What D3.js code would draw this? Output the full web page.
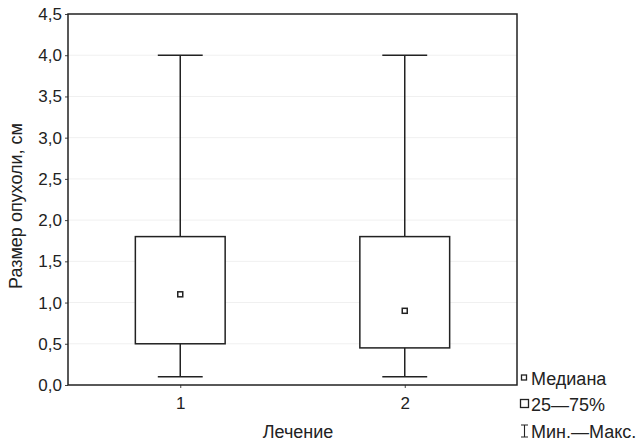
<!DOCTYPE html>
<html>
<head>
<meta charset="utf-8">
<script src="https://cdn.jsdelivr.net/npm/d3@7"></script>
<style>
  body { margin: 0; background: #fff; }
  text { font-family: "Liberation Sans", Arial, sans-serif; fill: #222; }
</style>
</head>
<body>
<div id="chart"></div>
<script>
var groups = ['1', '2'];
var mins = [0.1, 0.1];
var q1s = [0.5, 0.45];
var medians = [1.1, 0.9];
var q3s = [1.8, 1.8];
var maxs = [4.0, 4.0];
var yTicks = [0, 0.5, 1, 1.5, 2, 2.5, 3, 3.5, 4, 4.5];
var legendLabels = ['Медиана', '25—75%', 'Мин.—Макс.'];

var W = 637, H = 441;
var margin = { top: 14, right: 120, bottom: 56, left: 68 };
var FONT = '"Liberation Sans", Arial, sans-serif';

var svg = d3.select('#chart').append('svg')
    .attr('width', W).attr('height', H);

var x = d3.scaleLinear().domain([0.5, 2.5]).range([margin.left, W - margin.right]);
var y = d3.scaleLinear().domain([0, 4.5]).range([H - margin.bottom, margin.top]);

var data = groups.map(function (g, i) {
    return { g: g, pos: i + 1, min: mins[i], q1: q1s[i], med: medians[i], q3: q3s[i], max: maxs[i] };
});

// faint grid
svg.append('g').selectAll('line').data(yTicks.slice(1, -1)).join('line')
    .attr('x1', x(0.5)).attr('x2', x(2.5))
    .attr('y1', function (d) { return y(d); }).attr('y2', function (d) { return y(d); })
    .attr('stroke', '#f0f0f0').attr('stroke-width', 1);

// y axis
var yAxis = svg.append('g')
    .attr('transform', 'translate(' + x(0.5) + ',0)')
    .call(d3.axisLeft(y).tickValues(yTicks).tickSize(3).tickPadding(3)
        .tickFormat(function (d) { return d3.format('.1f')(d).replace('.', ','); }));
yAxis.select('.domain').remove();
yAxis.selectAll('.tick line').attr('stroke', '#444');
yAxis.selectAll('text').attr('font-size', 17).style('font-family', FONT).attr('fill', '#222');

// x axis
var xAxis = svg.append('g')
    .attr('transform', 'translate(0,' + y(0) + ')')
    .call(d3.axisBottom(x).tickValues([1, 2]).tickSize(3).tickPadding(9)
        .tickFormat(function (d, i) { return groups[i]; }));
xAxis.select('.domain').remove();
xAxis.selectAll('.tick line').attr('stroke', '#444');
xAxis.selectAll('text').attr('font-size', 17).style('font-family', FONT).attr('fill', '#222');

// frame
svg.append('rect')
    .attr('x', x(0.5)).attr('y', y(4.5))
    .attr('width', x(2.5) - x(0.5)).attr('height', y(0) - y(4.5))
    .attr('fill', 'none').attr('stroke', '#222').attr('stroke-width', 1.5);

var boxW = 0.4, capW = 0.2;
var box = svg.append('g').selectAll('g').data(data).join('g');

box.append('line')
    .attr('x1', function (d) { return x(d.pos); }).attr('x2', function (d) { return x(d.pos); })
    .attr('y1', function (d) { return y(d.min); }).attr('y2', function (d) { return y(d.max); })
    .attr('stroke', '#222').attr('stroke-width', 1.5);
box.append('line')
    .attr('x1', function (d) { return x(d.pos - capW / 2); }).attr('x2', function (d) { return x(d.pos + capW / 2); })
    .attr('y1', function (d) { return y(d.max); }).attr('y2', function (d) { return y(d.max); })
    .attr('stroke', '#222').attr('stroke-width', 1.5);
box.append('line')
    .attr('x1', function (d) { return x(d.pos - capW / 2); }).attr('x2', function (d) { return x(d.pos + capW / 2); })
    .attr('y1', function (d) { return y(d.min); }).attr('y2', function (d) { return y(d.min); })
    .attr('stroke', '#222').attr('stroke-width', 1.5);
box.append('rect')
    .attr('x', function (d) { return x(d.pos - boxW / 2); })
    .attr('width', function (d) { return x(d.pos + boxW / 2) - x(d.pos - boxW / 2); })
    .attr('y', function (d) { return y(d.q3); })
    .attr('height', function (d) { return y(d.q1) - y(d.q3); })
    .attr('fill', '#fff').attr('stroke', '#222').attr('stroke-width', 1.5);
box.append('rect')
    .attr('x', function (d) { return x(d.pos) - 2.5; })
    .attr('y', function (d) { return y(d.med) - 2.5; })
    .attr('width', 5).attr('height', 5)
    .attr('fill', '#fff').attr('stroke', '#222').attr('stroke-width', 1.5);

// axis titles
svg.append('text')
    .attr('x', 298).attr('y', 438)
    .attr('text-anchor', 'middle').attr('font-size', 18)
    .text('Лечение');
svg.append('text')
    .attr('transform', 'translate(22,' + 206 + ') rotate(-90)')
    .attr('text-anchor', 'middle').attr('font-size', 18)
    .text('Размер опухоли, см');

// legend
var lg = svg.append('g').attr('transform', 'translate(520,0)');
var ly = [378, 404, 431];
lg.append('rect').attr('x', 1.5).attr('y', ly[0] - 3).attr('width', 5).attr('height', 5)
    .attr('fill', '#fff').attr('stroke', '#222').attr('stroke-width', 1.3);
lg.append('rect').attr('x', 0.5).attr('y', ly[1] - 4.5).attr('width', 8).attr('height', 8)
    .attr('fill', '#fff').attr('stroke', '#222').attr('stroke-width', 1.3);
lg.append('path')
    .attr('d', 'M1,' + (ly[2] - 6) + 'H8M4.5,' + (ly[2] - 6) + 'V' + (ly[2] + 6) + 'M1,' + (ly[2] + 6) + 'H8')
    .attr('fill', 'none').attr('stroke', '#222').attr('stroke-width', 1.1);
lg.selectAll('text.lbl').data(legendLabels).join('text')
    .attr('class', 'lbl')
    .attr('x', 11).attr('y', function (d, i) { return ly[i] + 6.5; })
    .attr('font-size', 18)
    .text(function (d) { return d; });
</script>
</body>
</html>
